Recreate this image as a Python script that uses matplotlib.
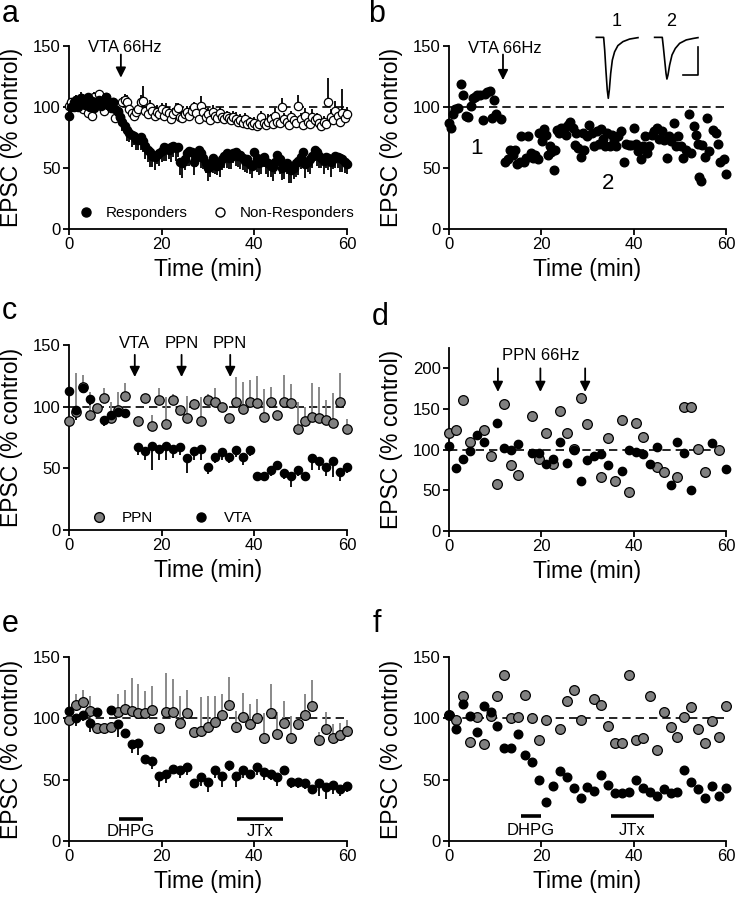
import numpy as np
import matplotlib
matplotlib.use("Agg")
import matplotlib.pyplot as plt
from matplotlib.lines import Line2D


# ---- panel a: responders / non-responders, one point every 0.5 min ----
RESP = [93, 100, 104, 106, 100, 107, 104, 102, 108, 100,
        105, 99, 103, 106, 101, 104, 108, 102, 100, 104,
        98, 97, 92, 88, 84, 81, 79, 77, 76, 74,
        73, 75, 72, 68, 65, 63, 60, 59, 61, 62,
        64, 67, 66, 65, 67, 68, 66, 67, 55, 54,
        57, 62, 64, 63, 55, 60, 65, 62, 58, 54,
        50, 52, 58, 55, 52, 54, 57, 60, 62, 58,
        59, 62, 63, 60, 61, 58, 56, 57, 53, 52,
        63, 58, 54, 57, 59, 55, 54, 52, 51, 55,
        61, 57, 50, 52, 54, 50, 48, 50, 54, 56,
        59, 63, 53, 55, 57, 60, 65, 63, 60, 58,
        56, 59, 58, 55, 57, 60, 59, 58, 57, 55,
        53]
RESP_ERR = [4, 5, 3, 6, 4, 5, 3, 4, 6, 5,
            4, 5, 3, 4, 6, 4, 5, 3, 4, 5,
            6, 5, 7, 8, 6, 9, 8, 10, 7, 9,
            8, 10, 9, 11, 10, 12, 9, 11, 8, 10,
            9, 11, 10, 8, 12, 9, 10, 8, 11, 12,
            9, 10, 12, 8, 11, 9, 10, 12, 9, 8,
            11, 9, 12, 10, 8, 11, 9, 10, 12, 9,
            10, 8, 11, 9, 12, 10, 9, 11, 8, 10,
            9, 11, 10, 12, 8, 10, 11, 9, 12, 10,
            8, 12, 10, 11, 9, 12, 10, 9, 11, 12,
            10, 9, 11, 8, 12, 10, 9, 11, 10, 8,
            11, 9, 10, 12, 8, 10, 9, 11, 10, 9,
            8]
NONRESP = [101, 104, 100, 106, 102, 107, 98, 104, 95, 100,
           93, 108, 104, 111, 103, 97, 108, 102, 99, 104,
           91, 96, 92, 104, 106, 104, 98, 95, 93, 96,
           98, 104, 105, 97, 94, 100, 97, 93, 96, 94,
           98, 93, 97, 95, 90, 94, 97, 99, 92, 91,
           94, 96, 93, 97, 100, 95, 90, 101, 96, 92,
           94, 89, 96, 93, 91, 95, 92, 90, 93, 91,
           89, 92, 90, 88, 89, 87, 90, 86, 88, 85,
           87, 84, 86, 92, 87, 85, 88, 90, 86, 93,
           88, 87, 100, 90, 88, 85, 92, 89, 87, 101,
           90, 85, 93, 88, 86, 92, 89, 91, 87, 84,
           88, 86, 104, 92, 89, 97, 93, 88, 95, 91,
           94]
NONRESP_ERR = [4, 3, 5, 4, 3, 5, 4, 3, 5, 4,
               3, 4, 5, 3, 4, 5, 3, 4, 5, 3,
               4, 5, 3, 4, 5, 6, 4, 5, 3, 4,
               5, 6, 12, 4, 5, 6, 4, 5, 6, 4,
               5, 4, 6, 5, 4, 5, 6, 4, 5, 6,
               4, 5, 6, 5, 4, 6, 5, 8, 5, 4,
               5, 4, 6, 5, 4, 5, 6, 5, 4, 5,
               4, 5, 6, 4, 5, 4, 5, 6, 4, 5,
               5, 4, 6, 5, 4, 5, 6, 4, 5, 6,
               5, 4, 7, 5, 4, 6, 5, 4, 6, 9,
               5, 4, 6, 5, 4, 6, 5, 4, 5, 6,
               5, 4, 20, 6, 5, 8, 6, 5, 20, 7,
               6]

# ---- panel b: single cell ----
B_TIME = [0, 0.4, 0.9, 1.4, 1.9, 2.7, 3.1, 3.7, 4.2, 4.7, 5.1, 5.6, 6.1,
          6.7, 7.3, 7.8, 8.3, 8.8, 9.3, 9.7, 10.2, 11.2,
          12.2, 12.8, 13.3, 13.8, 14.3, 14.8, 15.3, 15.6, 16.2, 16.7,
          17.1, 17.7, 18.2, 18.7, 19.2, 19.6, 20.1, 20.5, 21.1, 21.4,
          21.8, 22.1, 22.7, 23.0, 23.4, 23.9, 24.3, 24.9, 25.4, 25.7,
          26.3, 26.8, 27.2, 27.5, 28.0, 28.6, 29.0, 29.3, 29.9, 30.4,
          30.9, 31.5, 32.0, 32.4, 33.0, 33.3, 33.8, 34.2, 34.8, 35.3,
          35.8, 36.2, 36.7, 37.3, 37.9, 38.4, 38.9, 39.4, 40.0, 40.5,
          41.0, 41.6, 42.0, 42.5, 43.0, 43.4, 43.9, 44.5, 45.1, 45.6,
          46.1, 46.6, 47.2, 47.7, 48.2, 48.8, 49.2, 49.7, 50.3, 50.8,
          51.3, 51.9, 52.4, 53.0, 53.5, 53.9, 54.1, 54.7, 54.9, 55.4,
          56.0, 56.4, 57.1, 57.8, 58.3, 58.8, 59.5, 60.0]
B_EPSC = [87, 83, 94, 98, 99, 119, 110, 93, 92, 101, 107, 108, 110,
          110, 89, 111, 112, 113, 91, 106, 94, 90,
          55, 57, 65, 61, 65, 53, 55, 76, 55, 58,
          76, 62, 58, 61, 57, 79, 72, 82, 77, 61,
          68, 63, 48, 65, 81, 79, 83, 83, 77, 85,
          88, 83, 69, 79, 66, 59, 79, 65, 76, 85,
          79, 68, 80, 70, 82, 74, 68, 79, 68, 77,
          73, 68, 76, 80, 55, 70, 69, 69, 83, 70,
          64, 57, 68, 76, 62, 68, 77, 80, 83, 74,
          80, 73, 58, 76, 72, 87, 68, 76, 68, 58,
          65, 94, 62, 84, 77, 70, 43, 39, 69, 59,
          91, 64, 81, 79, 70, 55, 57, 45]

# example EPSC traces (ms, pA) for the inset of panel b
TRACE1_MS = [0, 4.9, 5.6, 6.4, 7.3, 8.0, 8.7, 9.6, 10.7, 12.2, 14.4, 17.8, 22.2, 27.8]
TRACE1_PA = [0, 0, -45, -115, -185, -215, -185, -127, -80, -51, -29, -15, -6, -1]
TRACE2_MS = [0, 5.1, 5.8, 6.7, 7.6, 8.2, 8.9, 10.0, 11.6, 13.8, 16.7, 21.1, 25.6, 28.9]
TRACE2_PA = [0, 0, -33, -80, -127, -147, -133, -98, -62, -39, -21, -9, -4, -1]

# ---- panel c: PPN vs VTA ----
C_PPN_TIME = [0, 1.5, 3, 4.5, 6, 7.5, 9, 10.5, 12,
              15, 16.5, 18, 19.5, 21, 22.5, 24, 25.5, 27, 28.5, 30,
              31.5, 33, 34.5, 36, 37.5, 39, 40.5, 42, 43.5, 45,
              46.5, 48, 49.5, 51, 52.5, 54, 55.5, 57, 58.5, 60]
C_PPN = [88, 96, 116, 93, 99, 107, 91, 97, 109,
         88, 107, 84, 105, 86, 105, 97, 91, 102, 88, 105,
         104, 100, 91, 104, 98, 104, 103, 92, 104, 93,
         104, 103, 82, 88, 92, 91, 89, 87, 104, 82]
C_PPN_ERR = [0, 31, 10, 19, 2, 8, 13, 15, 10,
             0, 0, 9, 10, 22, 5, 3, 18, 4, 20, 5,
             11, 2, 0, 20, 22, 18, 22, 22, 12, 0,
             22, 15, 22, 12, 27, 25, 16, 24, 23, 8]
C_VTA_TIME = [0, 1.5, 3, 4.5, 7.5, 9, 10.5, 12,
              15, 16.5, 18, 19.5, 21, 22.5, 24, 25.5, 27, 28.5, 30,
              31.5, 33, 34.5, 36, 37.5, 39, 40.5, 42, 43.5, 45,
              46.5, 48, 49.5, 51, 52.5, 54, 55.5, 57, 58.5, 60]
C_VTA = [113, 97, 115, 106, 89, 93, 96, 95,
         67, 64, 68, 66, 68, 66, 67, 58, 64, 66, 51,
         59, 63, 59, 65, 59, 65, 44, 44, 49, 53,
         46, 44, 49, 44, 58, 56, 51, 56, 47, 51]
C_VTA_ERR = [0, 8, 3, 5, 5, 6, 4, 4,
             6, 7, 19, 9, 11, 8, 6, 12, 7, 9, 6,
             5, 6, 5, 6, 6, 5, 2, 2, 5, 4,
             5, 9, 5, 2, 9, 7, 7, 13, 7, 5]

# ---- panel d: PPN 66Hz, two cells ----
D_GREY_TIME = [0, 1.5, 3, 4.5, 7.5, 9, 10.5, 12, 13.5, 15,
               18, 19.5, 21, 22.5, 24, 25.5, 27, 28.5, 30,
               33, 34.5, 36, 37.5, 39, 40.5, 42, 45, 46.5,
               49.5, 51, 52.5, 54, 55.5, 58.5]
D_GREY = [120, 124, 161, 109, 124, 92, 58, 156, 81, 69,
          141, 89, 121, 83, 148, 121, 101, 163, 131,
          67, 114, 62, 137, 48, 133, 115, 79, 72,
          67, 153, 153, 101, 73, 100]
D_BLACK_TIME = [0, 1.5, 3, 4.5, 6, 7.5, 10.5, 12, 13.5, 15,
                18, 19.5, 21, 22.5, 24, 25.5, 27, 28.5, 30, 31.5, 33, 34.5,
                37.5, 39, 40.5, 42, 43.5, 45, 48, 49.5, 51, 52.5, 57, 60]
D_BLACK = [105, 77, 88, 98, 118, 110, 133, 102, 100, 107,
           96, 96, 83, 89, 110, 84, 99, 61, 87, 92, 95, 81,
           74, 99, 97, 95, 82, 103, 57, 110, 96, 51, 108, 76]

# ---- panel e: DHPG / JTx, mean +/- sem ----
E_GREY = [99, 111, 113, 106, 92, 92, 93, 105, 108, 106,
          104, 104, 107, 92, 105, 105, 96, 104, 89, 90,
          93, 97, 103, 111, 93, 101, 95, 100, 84, 104,
          87, 96, 84, 95, 103, 110, 82, 91, 84, 86, 90]
E_GREY_ERR = [0, 9, 10, 12, 0, 0, 0, 15, 15, 27,
              24, 18, 19, 0, 32, 27, 22, 19, 0, 27,
              25, 21, 17, 23, 13, 20, 17, 16, 20, 24,
              18, 18, 18, 0, 17, 21, 7, 14, 11, 10, 9]
E_BLACK_TIME = [0, 1.5, 3, 4.5, 6, 9, 10.5, 12, 13.5, 15,
                16.5, 18, 19.5, 21, 22.5, 24, 25.5, 27, 28.5, 30,
                31.5, 33, 34.5, 36, 37.5, 39, 40.5, 42, 43.5, 45,
                46.5, 48, 49.5, 51, 52.5, 54, 55.5, 57, 58.5, 60]
E_BLACK = [106, 100, 103, 96, 105, 107, 95, 88, 79, 80,
           67, 65, 53, 55, 59, 58, 60, 47, 52, 48,
           58, 53, 62, 53, 58, 55, 60, 56, 55, 52,
           58, 48, 48, 47, 42, 47, 44, 46, 42, 45]
E_BLACK_ERR = [0, 6, 5, 7, 0, 0, 10, 0, 7, 10,
               0, 6, 9, 8, 0, 7, 6, 0, 7, 8,
               7, 9, 5, 9, 7, 0, 6, 6, 5, 7,
               0, 5, 5, 5, 4, 10, 10, 8, 5, 5]

# ---- panel f: DHPG / JTx, single cells ----
F_GREY_TIME = [0, 1.5, 3, 4.5, 6, 7.5, 9, 10.5, 12, 13.5, 15, 16.5, 18,
               19.5, 21, 24, 25.5, 27, 28.5,
               31.5, 33, 34.5, 36, 37.5, 39, 40.5, 42, 43.5, 45,
               46.5, 48, 49.5, 51, 52.5, 54, 55.5, 57, 58.5, 60]
F_GREY = [103, 99, 118, 81, 101, 79, 102, 118, 135, 100, 101, 119, 100,
          82, 99, 91, 114, 123, 99,
          116, 111, 94, 80, 80, 135, 82, 84, 118, 74,
          105, 93, 85, 101, 109, 91, 80, 98, 85, 110]
F_BLACK = [103, 91, 112, 102, 89, 110, 105, 94, 76, 76,
           87, 70, 64, 50, 32, 45, 57, 52, 43, 35,
           44, 41, 54, 46, 39, 39, 40, 50, 43, 40,
           37, 42, 39, 40, 58, 48, 42, 35, 45, 37, 43]

# stimulus / drug timing (min)
A_STIM = [11.2]
B_STIM = [11.7]
C_STIM = [14.2, 24.3, 34.8]
C_STIM_LABELS = ['VTA', 'PPN', 'PPN']
D_STIM = [10.6, 19.8, 29.5]
E_DRUGS = {'DHPG': (10.8, 15.9), 'JTx': (36.2, 46.2)}
F_DRUGS = {'DHPG': (15.6, 20.0), 'JTx': (35.0, 44.5)}

GREY = '#808080'
FS_TICK = 12
FS_LABEL = 16.5
FS_NOTE = 12


def style_axis(ax, ytop=150, yticks=(0, 50, 100, 150)):
    '''Prism-like axis: left/bottom spines only, outward ticks.'''
    for side in ('top', 'right'):
        ax.spines[side].set_visible(False)
    for side in ('left', 'bottom'):
        ax.spines[side].set_linewidth(1.3)
    ax.set_xlim(0, 60)
    ax.set_ylim(0, ytop)
    ax.set_xticks([0, 20, 40, 60])
    ax.set_yticks(list(yticks))
    ax.tick_params(direction='out', length=4, width=1.3,
                   labelsize=FS_TICK, pad=2)
    ax.set_xlabel('Time (min)', fontsize=FS_LABEL, labelpad=4)
    ax.set_ylabel('EPSC (% control)', fontsize=FS_LABEL, labelpad=7)
    ax.axhline(100, color='black', lw=1.2, ls=(0, (5, 3)), zorder=1)


def err_plot(ax, t, v, err, face, up, ms=6.0, ecolor=None):
    '''Points with one-sided error bars (upward or downward).'''
    err = np.asarray(err, dtype=float)
    zeros = np.zeros_like(err)
    yerr = [zeros, err] if up else [err, zeros]
    cont = ax.errorbar(t, v, yerr=yerr, fmt='o', ms=ms, mfc=face,
                       mec='black', mew=0.9, ecolor=ecolor or face,
                       elinewidth=1.3, capsize=0, zorder=3)
    cont.lines[0].set_clip_on(False)
    for coll in cont.lines[2]:
        coll.set_clip_on(False)
    return cont


def stim_arrow(ax, x, y_from, y_to):
    ax.annotate('', xy=(x, y_to), xytext=(x, y_from),
                arrowprops=dict(arrowstyle='-|>', color='black', lw=1.3,
                                mutation_scale=15, shrinkA=0, shrinkB=0),
                annotation_clip=False)


def drug_bars(ax, drugs, y_bar, y_text):
    for name, (t0, t1) in drugs.items():
        ax.plot([t0, t1], [y_bar, y_bar], color='black', lw=2.6,
                solid_capstyle='butt', clip_on=False)
        ax.text((t0 + t1) / 2, y_text, name, ha='center', va='center',
                fontsize=FS_NOTE)


def main():
    plt.rcParams['font.family'] = ['Liberation Sans', 'DejaVu Sans']
    fig = plt.figure(figsize=(7.37, 9.0), dpi=100)

    left_l, left_r = 0.0936, 0.6092
    w_l, w_r = 0.3772, 0.3758
    ax_a = fig.add_axes([left_l, 0.7456, w_l, 0.2033])
    ax_b = fig.add_axes([left_r, 0.7456, w_r, 0.2033])
    ax_c = fig.add_axes([left_l, 0.4111, w_l, 0.2056])
    ax_d = fig.add_axes([left_r, 0.4100, w_r, 0.2033])
    ax_e = fig.add_axes([left_l, 0.0656, w_l, 0.2044])
    ax_f = fig.add_axes([left_r, 0.0656, w_r, 0.2044])

    # panel a
    style_axis(ax_a)
    t_a = np.arange(len(RESP)) * 0.5
    err_plot(ax_a, t_a, NONRESP, NONRESP_ERR, 'white', up=True,
             ms=6.0, ecolor='black')
    err_plot(ax_a, t_a, RESP, RESP_ERR, 'black', up=False, ms=6.0)
    for x in A_STIM:
        stim_arrow(ax_a, x, 143, 124)
        ax_a.text(x + 0.8, 148.5, 'VTA 66Hz', ha='center', va='center',
                  fontsize=FS_NOTE)
    handles = [Line2D([], [], ls='', marker='o', ms=6.5, mfc='black',
                      mec='black'),
               Line2D([], [], ls='', marker='o', ms=6.5, mfc='white',
                      mec='black', mew=1.0)]
    ax_a.legend(handles, ['Responders', 'Non-Responders'], ncol=2,
                loc='center', bbox_to_anchor=(0.53, 0.087), frameon=False,
                fontsize=11, handlelength=1.0, handletextpad=0.8,
                columnspacing=1.6, borderaxespad=0, borderpad=0)

    # panel b
    style_axis(ax_b)
    ax_b.plot(B_TIME, B_EPSC, 'o', ms=6.2, color='black', clip_on=False,
              zorder=3)
    for x in B_STIM:
        stim_arrow(ax_b, x, 143, 122)
        ax_b.text(x + 0.4, 148, 'VTA 66Hz', ha='center', va='center',
                  fontsize=FS_NOTE)
    ax_b.text(5.9, 66, '1', ha='center', va='center', fontsize=16)
    ax_b.text(34.4, 37, '2', ha='center', va='center', fontsize=16)

    # inset traces for panel b
    ax_in = fig.add_axes([590 / 737, 1 - 102 / 900, 115 / 737, 74 / 900])
    ax_in.axis('off')
    ax_in.set_xlim(-4.2, 72.5)
    ax_in.set_ylim(-228, 33)
    ax_in.plot(TRACE1_MS, TRACE1_PA, color='black', lw=1.2)
    ax_in.plot(np.asarray(TRACE2_MS) + 38.9, TRACE2_PA, color='black',
               lw=1.2)
    ax_in.plot([57.8, 67.8, 67.8], [-133, -133, -33], color='black',
               lw=1.2)
    ax_in.text(13.3, 55, '1', ha='center', va='center', fontsize=13,
               clip_on=False)
    ax_in.text(50.0, 55, '2', ha='center', va='center', fontsize=13,
               clip_on=False)

    # panel c
    style_axis(ax_c)
    err_plot(ax_c, C_PPN_TIME, C_PPN, C_PPN_ERR, GREY, up=True, ms=6.8)
    err_plot(ax_c, C_VTA_TIME, C_VTA, C_VTA_ERR, 'black', up=False, ms=6.0)
    for x, lab in zip(C_STIM, C_STIM_LABELS):
        stim_arrow(ax_c, x, 142, 124)
        ax_c.text(x, 151.5, lab, ha='center', va='center', fontsize=FS_NOTE)
    handles = [Line2D([], [], ls='', marker='o', ms=7, mfc=GREY,
                      mec='black'),
               Line2D([], [], ls='', marker='o', ms=6.5, mfc='black',
                      mec='black')]
    ax_c.legend(handles, ['PPN', 'VTA'], ncol=2, loc='center',
                bbox_to_anchor=(0.37, 0.065), frameon=False, fontsize=11,
                handlelength=1.0, handletextpad=1.0, columnspacing=2.6,
                borderaxespad=0, borderpad=0)

    # panel d
    style_axis(ax_d, ytop=225, yticks=(0, 50, 100, 150, 200))
    ax_d.plot(D_GREY_TIME, D_GREY, 'o', ms=7, mfc=GREY, mec='black',
              mew=0.9, clip_on=False, zorder=3)
    ax_d.plot(D_BLACK_TIME, D_BLACK, 'o', ms=6, color='black',
              clip_on=False, zorder=3)
    for x in D_STIM:
        stim_arrow(ax_d, x, 200, 171)
    ax_d.text(20, 216, 'PPN 66Hz', ha='center', va='center',
              fontsize=FS_NOTE)

    # panel e
    style_axis(ax_e)
    t_e = np.arange(len(E_GREY)) * 1.5
    err_plot(ax_e, t_e, E_GREY, E_GREY_ERR, GREY, up=True, ms=7)
    err_plot(ax_e, E_BLACK_TIME, E_BLACK, E_BLACK_ERR, 'black', up=False,
             ms=6.2)
    drug_bars(ax_e, E_DRUGS, 18.3, 7.4)

    # panel f
    style_axis(ax_f)
    t_f = np.arange(len(F_BLACK)) * 1.5
    ax_f.plot(F_GREY_TIME, F_GREY, 'o', ms=7, mfc=GREY, mec='black',
              mew=0.9, clip_on=False, zorder=3)
    ax_f.plot(t_f, F_BLACK, 'o', ms=6.2, color='black', clip_on=False,
              zorder=3)
    drug_bars(ax_f, F_DRUGS, 20, 8.7)

    # panel letters
    for lab, x, y in [('a', 0.002, 0.9756), ('b', 0.500, 0.9756),
                      ('c', 0.002, 0.6456), ('d', 0.505, 0.6390),
                      ('e', 0.002, 0.2980), ('f', 0.505, 0.2980)]:
        fig.text(x, y, lab, fontsize=22, va='baseline', ha='left')

    fig.savefig('out.png', dpi=100)


if __name__ == "__main__":
    main()
